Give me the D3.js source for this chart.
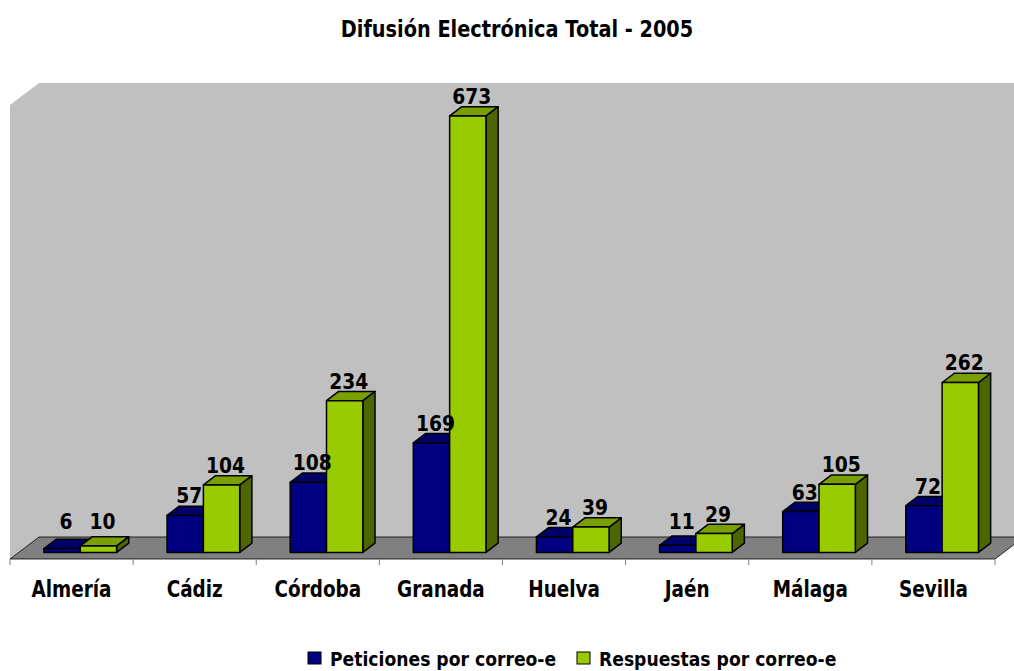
<!DOCTYPE html>
<html>
<head>
<meta charset="utf-8">
<script src="https://cdn.jsdelivr.net/npm/d3@7"></script>
<style>
  body { margin: 0; background: #fff; }
  text { font-family: "DejaVu Sans", sans-serif; font-weight: bold; }
</style>
</head>
<body>
<div id="chart"></div>
<script>
// data
const provincias = ["Almería", "Cádiz", "Córdoba", "Granada", "Huelva", "Jaén", "Málaga", "Sevilla"];
const peticiones = [6, 57, 108, 169, 24, 11, 63, 72];
const respuestas = [10, 104, 234, 673, 39, 29, 105, 262];
const seriesNames = ["Peticiones por correo-e", "Respuestas por correo-e"];
const yMax = 700;

const width = 1014, height = 671;
// 3d box: front plane and depth offset
const front = { left: 10, right: 995, top: 105, bottom: 559 };
const depth = { dx: 29, dy: 22 };
const barDepth = { from: 0.3, to: 0.72 };

const colors = [
  { front: "#000080", top: "#000066", side: "#00004d" },
  { front: "#99cc00", top: "#7a9f00", side: "#4d6600" }
];

const svg = d3.select("#chart")
  .append("svg")
  .attr("width", width)
  .attr("height", height);

// condensed bold text: squeeze horizontally
const label = (sel, x, yy, size, sx) => sel
  .attr("transform", `translate(${x},${yy}) scale(${sx},1)`)
  .attr("font-size", size);

const x0 = d3.scaleBand().domain(provincias).range([front.left, front.right]);
const groupW = x0.bandwidth() * 0.59;
const x1 = d3.scaleBand().domain(seriesNames).range([0, groupW]);
const y = d3.scaleLinear().domain([0, yMax]).range([front.bottom, front.top]);

// project (x, y on front plane, depth fraction) to screen
const P = (px, py, d) => [px + d * depth.dx, py - d * depth.dy];
const poly = pts => "M" + pts.map(p => p.join(",")).join("L") + "Z";

// walls
const g = svg.append("g");
g.append("path")
  .attr("d", poly([P(front.left, front.top, 0), P(front.left, front.top, 1), P(front.left, front.bottom, 1), P(front.left, front.bottom, 0)]))
  .attr("fill", "#c0c0c0");
g.append("path")
  .attr("d", poly([P(front.left, front.top, 1), P(front.right, front.top, 1), P(front.right, front.bottom, 1), P(front.left, front.bottom, 1)]))
  .attr("fill", "#c0c0c0");
// floor
g.append("path")
  .attr("d", poly([P(front.left, front.bottom, 0), P(front.right, front.bottom, 0), P(front.right, front.bottom, 1), P(front.left, front.bottom, 1)]))
  .attr("fill", "#808080")
  .attr("stroke", "#000")
  .attr("stroke-width", 0.8);

// x axis ticks along the floor's front edge
const tickXs = provincias.map(p => x0(p)).concat([front.right]);
g.selectAll(".tick")
  .data(tickXs)
  .join("line")
  .attr("x1", d => d).attr("x2", d => d)
  .attr("y1", front.bottom).attr("y2", front.bottom + 6)
  .attr("stroke", "#808080")
  .attr("stroke-width", 1);

g.selectAll(".cat")
  .data(provincias)
  .join("text")
  .each(function (d) { label(d3.select(this), x0(d) + x0.bandwidth() / 2, 597, 23, 0.8); })
  .attr("text-anchor", "middle")
  .text(d => d);

// bars
const rows = provincias.map((p, i) => ({ p, vals: [peticiones[i], respuestas[i]] }));
const bars = svg.append("g");
const labels = svg.append("g");
rows.forEach(r => {
  const gx = x0(r.p) + (x0.bandwidth() - groupW) / 2;
  r.vals.forEach((v, s) => {
    const xl = gx + x1(seriesNames[s]);
    const xr = xl + x1.bandwidth();
    const yt = y(v), yb = y(0);
    const a = barDepth.from, b = barDepth.to;
    const c = colors[s];
    const bg = bars.append("g").attr("stroke", "#000").attr("stroke-width", 1.5).attr("stroke-linejoin", "round");
    bg.append("path").attr("fill", c.side)
      .attr("d", poly([P(xr, yt, a), P(xr, yt, b), P(xr, yb, b), P(xr, yb, a)]));
    bg.append("path").attr("fill", c.top)
      .attr("d", poly([P(xl, yt, a), P(xr, yt, a), P(xr, yt, b), P(xl, yt, b)]));
    bg.append("path").attr("fill", c.front)
      .attr("d", poly([P(xl, yt, a), P(xr, yt, a), P(xr, yb, a), P(xl, yb, a)]));
    const [lx, ly] = P((xl + xr) / 2, yt, a);
    labels.append("text")
      .call(label, lx + 4, Math.min(ly - 12, 529), 22, 0.85)
      .attr("text-anchor", "middle")
      .text(v);
  });
});

// title
svg.append("text")
  .call(label, 517, 37, 23, 0.84)
  .attr("text-anchor", "middle")
  .text("Difusión Electrónica Total  - 2005");

// legend
const legend = svg.append("g").attr("transform", "translate(308,652)");
const li = legend.selectAll("g")
  .data(seriesNames)
  .join("g")
  .attr("transform", (d, i) => `translate(${i * 269},0)`);
li.append("rect")
  .attr("width", 13).attr("height", 12)
  .attr("fill", (d, i) => colors[i].front)
  .attr("stroke", "#000").attr("stroke-width", 1);
li.append("text")
  .call(label, 22, 14, 20, 0.86)
  .text(d => d);
</script>
</body>
</html>
